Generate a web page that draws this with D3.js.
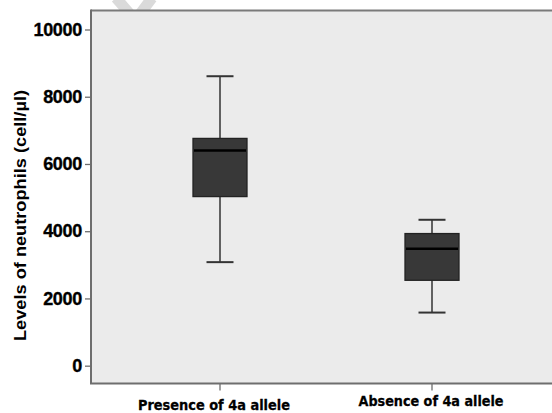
<!DOCTYPE html>
<html>
<head>
<meta charset="utf-8">
<script src="https://cdn.jsdelivr.net/npm/d3@7"></script>
<style>
  html, body { margin: 0; padding: 0; background: #ffffff; }
  svg { display: block; }
</style>
</head>
<body>
<svg id="chart" width="552" height="413"></svg>
<script>
// Neutrophil levels by 4a allele status (box-and-whisker summary)
const categories = ["Presence of 4a allele", "Absence of 4a allele"];
const whiskerLow  = [3080, 1580];
const quartile1   = [5030, 2540];
const medians     = [6400, 3480];
const quartile3   = [6760, 3930];
const whiskerHigh = [8610, 4340];
const yTicks = [0, 2000, 4000, 6000, 8000, 10000];
const yTitle = "Levels of neutrophils (cell/\u00b5l)";

const plot = { left: 91, top: 10.5, right: 560, bottom: 383.5 };

const svg = d3.select("#chart");

// faint background stroke at the top edge
const deco = svg.append("g").attr("stroke", "#dadada").attr("stroke-width", 11).attr("fill", "none");
deco.append("line").attr("x1", 116).attr("y1", -2).attr("x2", 130).attr("y2", 14);
deco.append("line").attr("x1", 152).attr("y1", -2).attr("x2", 140).attr("y2", 14);

const x = d3.scaleBand()
  .domain(categories)
  .range([114, 538])
  .paddingInner(0)
  .paddingOuter(0);

const y = d3.scaleLinear()
  .domain([-530, 10565])
  .range([plot.bottom, plot.top]);

// plot panel
svg.append("rect")
  .attr("x", plot.left).attr("y", plot.top)
  .attr("width", plot.right - plot.left).attr("height", plot.bottom - plot.top)
  .attr("fill", "#ebebeb");

svg.append("line")
  .attr("x1", plot.left).attr("x2", plot.right)
  .attr("y1", plot.top).attr("y2", plot.top)
  .attr("stroke", "#7a7a7a").attr("stroke-width", 2);

// y axis
const yAxis = svg.append("g")
  .attr("transform", `translate(${plot.left},0)`)
  .call(d3.axisLeft(y).tickValues(yTicks).tickSize(6).tickPadding(3).tickFormat(d3.format("d")));
yAxis.select(".domain").remove();
yAxis.append("line")
  .attr("x1", 0).attr("x2", 0).attr("y1", plot.top - 1).attr("y2", plot.bottom + 0.5)
  .attr("stroke", "#6e6e6e").attr("stroke-width", 2);
yAxis.selectAll(".tick line").attr("stroke", "#6e6e6e").attr("stroke-width", 1.3);
yAxis.selectAll(".tick text")
  .attr("fill", "#000")
  .attr("stroke", "#000")
  .attr("stroke-width", 0.35)
  .attr("font-family", "'Liberation Sans', Arial, sans-serif")
  .attr("font-weight", "bold")
  .attr("font-size", "18px")
  .attr("letter-spacing", "-0.3px");

// x axis
const xAxis = svg.append("g")
  .attr("transform", `translate(0,${plot.bottom})`)
  .call(d3.axisBottom(x).tickSize(7).tickFormat(""));
xAxis.select(".domain").remove();
xAxis.append("line")
  .attr("x1", plot.left - 1).attr("x2", plot.right).attr("y1", 0).attr("y2", 0)
  .attr("stroke", "#6e6e6e").attr("stroke-width", 2);
xAxis.selectAll(".tick line").attr("stroke", "#6e6e6e").attr("stroke-width", 1.3);

// category labels
const labelBaselines = [409.5, 406];
const labelWidths = [152, 145];
svg.append("g").selectAll("text")
  .data(categories)
  .join("text")
  .attr("x", (d, i) => x(d) + x.bandwidth() / 2 - (i === 0 ? 6 : 1))
  .attr("y", (d, i) => labelBaselines[i])
  .attr("text-anchor", "middle")
  .attr("font-family", "'DejaVu Sans', Verdana, sans-serif")
  .attr("font-weight", "bold")
  .attr("font-size", "14.5px")
  .attr("textLength", (d, i) => labelWidths[i])
  .attr("lengthAdjust", "spacingAndGlyphs")
  .attr("fill", "#000")
  .attr("stroke", "#000")
  .attr("stroke-width", 0.3)
  .text(d => d);

// y title
svg.append("text")
  .attr("transform", `translate(26,${(90 + 341) / 2}) rotate(-90)`)
  .attr("text-anchor", "middle")
  .attr("font-family", "'Liberation Sans', Arial, sans-serif")
  .attr("font-weight", "bold")
  .attr("font-size", "17px")
  .attr("textLength", 251)
  .attr("lengthAdjust", "spacingAndGlyphs")
  .attr("fill", "#000")
  .text(yTitle);

// boxes
const boxW = 54, capW = 27;
const boxes = categories.map((c, i) => ({
  c, lo: whiskerLow[i], q1: quartile1[i], med: medians[i], q3: quartile3[i], hi: whiskerHigh[i]
}));

const g = svg.append("g").selectAll("g")
  .data(boxes)
  .join("g")
  .attr("transform", d => `translate(${x(d.c) + x.bandwidth() / 2},0)`);

g.append("line") // whisker stem
  .attr("x1", 0).attr("x2", 0)
  .attr("y1", d => y(d.hi)).attr("y2", d => y(d.lo))
  .attr("stroke", "#333").attr("stroke-width", 1.5);

g.selectAll(".cap")
  .data(d => [d.lo, d.hi])
  .join("line")
  .attr("class", "cap")
  .attr("x1", -capW / 2).attr("x2", capW / 2)
  .attr("y1", v => y(v)).attr("y2", v => y(v))
  .attr("stroke", "#333").attr("stroke-width", 2);

g.append("rect")
  .attr("x", -boxW / 2).attr("width", boxW)
  .attr("y", d => y(d.q3)).attr("height", d => y(d.q1) - y(d.q3))
  .attr("fill", "#383838").attr("stroke", "#222").attr("stroke-width", 1.3);

g.append("line")
  .attr("x1", -boxW / 2 + 1).attr("x2", boxW / 2 - 1)
  .attr("y1", d => y(d.med)).attr("y2", d => y(d.med))
  .attr("stroke", "#000").attr("stroke-width", 2.5);
</script>
</body>
</html>
